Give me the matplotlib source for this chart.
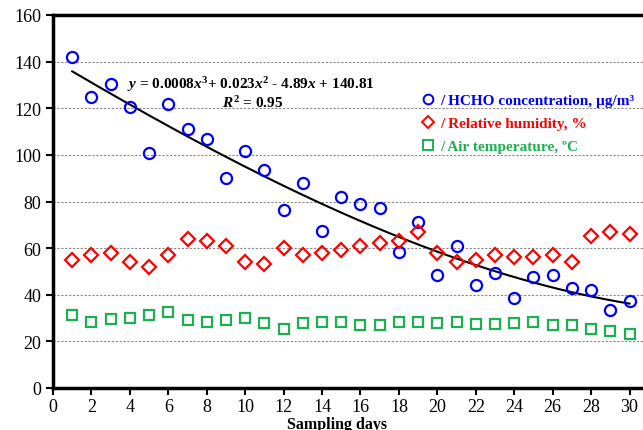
import numpy as np
import matplotlib
matplotlib.use("Agg")
import matplotlib.pyplot as plt
from matplotlib.lines import Line2D

plt.rcParams['font.family'] = ['Liberation Serif', 'DejaVu Serif']
plt.rcParams['mathtext.fontset'] = 'custom'
plt.rcParams['mathtext.rm'] = 'Liberation Serif:bold'
plt.rcParams['mathtext.it'] = 'Liberation Serif:italic:bold'
plt.rcParams['mathtext.bf'] = 'Liberation Serif:bold'

# datos
days = np.arange(1, 31)
hcho = [142, 125, 130.5, 120.5, 101, 122, 111, 107, 90, 101.5,
        93.5, 76.5, 88, 67.5, 82, 79, 77, 58.5, 71, 48.5,
        61, 44, 49.5, 38.5, 47.5, 48.5, 43, 42, 33.5, 37.5]
humidity = [55, 57, 58, 54, 52, 57, 64, 63, 61, 54,
            53, 60, 57, 58, 59, 61, 62, 63, 67, 58,
            54, 55, 57, 56, 56, 57, 54, 65, 67, 66]
temperature = [31.5, 28.5, 29.5, 30, 31.5, 32.5, 29, 28.5, 29, 30,
               28, 25.5, 28, 28.5, 28.5, 27, 27, 28.5, 28.5, 28,
               28.5, 27.5, 27.5, 28, 28.5, 27, 27, 25.5, 24.5, 23]
labels = ['/ HCHO concentration, µg/m³', '/ Relative humidity, %', '/ Air temperature, ºC']

blue, red, green = '#0000FF', '#FF0000', '#1DB050'

fig = plt.figure(figsize=(6.43, 4.31), dpi=100)
ax = fig.add_axes([53 / 643, 1 - 389 / 431, 590 / 643, 373 / 431])

# ajuste polinomico de grado 3
coef = np.polyfit(days, hcho, 3)
xf = np.linspace(1, 30, 200)
ax.plot(xf, np.polyval(coef, xf), color='black', lw=1.5, zorder=2)

mew = 1.6
ax.plot(days, hcho, 'o', mfc='none', mec=blue, ms=8, mew=mew, zorder=3)
ax.plot(days, humidity, 'D', mfc='none', mec=red, ms=7, mew=mew, zorder=3)
ax.plot(days, temperature, 's', mfc='none', mec=green, ms=7.5, mew=mew, zorder=3)

ax.set_xlim(0, 30.7)
ax.set_ylim(0, 160)
ax.set_xticks(range(0, 31, 2))
ax.set_yticks(range(0, 161, 20))
ax.yaxis.grid(True, linestyle=(0, (2, 1.5)), color='#888888', lw=0.8)
ax.set_axisbelow(True)
for s in ['left', 'bottom', 'top']:
    ax.spines[s].set_linewidth(2.5)
ax.spines['right'].set_visible(False)
ax.tick_params(labelsize=13, width=1.5, length=5, direction='out')
ax.tick_params(axis='x', pad=2.5)
ax.set_xlabel('Sampling days', fontsize=11.5, fontweight='bold', labelpad=0)
ax.xaxis.set_label_coords(0.481, -0.076)

ax.text(10.3, 130.5, r'$y$ = 0.0008$x^3$+ 0.023$x^2$ - 4.89$x$ + 140.81',
        fontsize=11, fontweight='bold', ha='center', va='center')
ax.text(10.4, 122.5, r'$R^2$ = 0.95', fontsize=11, fontweight='bold',
        ha='center', va='center')

handles = [Line2D([], [], ls='none', marker='o', mfc='none', mec=blue, ms=7, mew=1.4),
           Line2D([], [], ls='none', marker='D', mfc='none', mec=red, ms=6, mew=1.4),
           Line2D([], [], ls='none', marker='s', mfc='none', mec=green, ms=6.5, mew=1.4)]
leg = ax.legend(handles, labels, loc='upper left', bbox_to_anchor=(0.625, 0.789),
                frameon=False, handlelength=0.8, handletextpad=0.4, labelspacing=0.6,
                borderpad=0, borderaxespad=0, prop={'size': 11, 'weight': 'bold'})
for t, c in zip(leg.get_texts(), [blue, red, green]):
    t.set_color(c)

fig.savefig('out.png', dpi=100)
